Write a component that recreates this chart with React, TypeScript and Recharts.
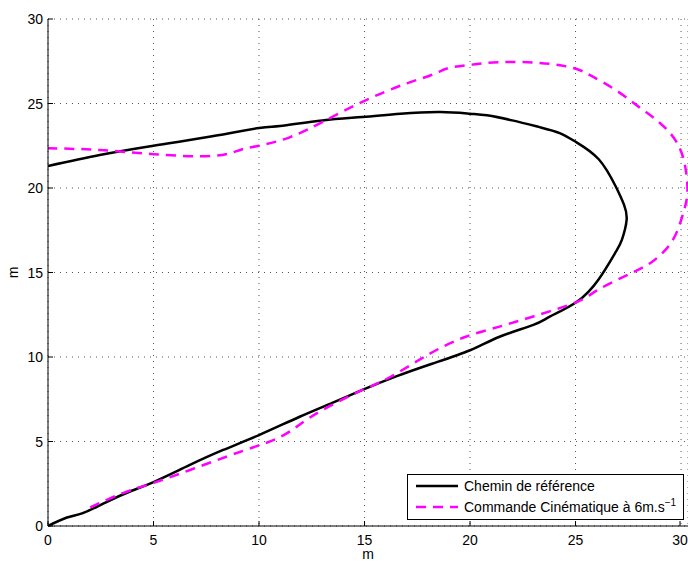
import React from 'react';
import { LineChart, Line, XAxis, YAxis, CartesianGrid, Legend } from 'recharts';

const refX = [0, 0.9, 1.65, 2.77, 4.0, 5.0, 6.7, 8.3, 10.0, 11.9, 13.5, 14.9, 16.5, 18.2, 20.0, 21.4, 23.0, 23.8, 25.05, 26.1, 26.9, 27.2, 27.42, 27.3, 26.9, 26.1, 25.05, 24.25, 23.3, 22.0, 20.8, 20.0, 18.6, 16.7, 14.9, 13.0, 11.0, 10.0, 7.5, 5.0, 2.45, 0];
const refY = [0, 0.5, 0.76, 1.42, 2.1, 2.6, 3.6, 4.5, 5.38, 6.45, 7.3, 8.05, 8.85, 9.6, 10.4, 11.2, 11.9, 12.4, 13.25, 14.6, 16.2, 16.95, 18.1, 19.0, 20.1, 21.7, 22.7, 23.25, 23.6, 24.0, 24.3, 24.4, 24.5, 24.4, 24.2, 24.0, 23.67, 23.55, 23.0, 22.5, 21.95, 21.3];

const cmdX = [2.0, 3.55, 5.0, 6.7, 8.45, 9.9, 11.0, 11.9, 13.0, 14.9, 16.2, 18.1, 19.8, 21.4, 23.0, 25.05, 26.1, 27.7, 28.7, 29.6, 30.1, 30.3, 30.2, 29.8, 29.0, 28.0, 26.9, 25.8, 24.9, 23.3, 21.4, 20.1, 19.0, 18.2, 16.8, 14.9, 13.0, 11.45, 10.0, 9.1, 7.8, 5.0, 2.45, 0];
const cmdY = [1.1, 1.95, 2.55, 3.3, 4.1, 4.73, 5.26, 5.98, 6.86, 8.05, 8.8, 10.2, 11.2, 11.8, 12.4, 13.25, 14.0, 15.0, 15.7, 16.9, 18.5, 19.7, 21.25, 22.7, 23.85, 24.8, 25.8, 26.6, 27.1, 27.4, 27.45, 27.3, 27.1, 26.7, 26.1, 25.1, 23.9, 23.0, 22.5, 22.25, 21.9, 22.0, 22.25, 22.35];

const xTicks = [0, 5, 10, 15, 20, 25, 30];
const yTicks = [0, 5, 10, 15, 20, 25, 30];
const xLabel = 'm';
const yLabel = 'm';
const refName = 'Chemin de référence';
const cmdName = 'Commande Cinématique à 6m.s';
const cmdSup = '−1';

const refData = refX.map((x, i) => ({ x, y: refY[i] }));
const cmdData = cmdX.map((x, i) => ({ x, y: cmdY[i] }));

const FONT = '"Liberation Sans", Arial, Helvetica, sans-serif';
const MAGENTA = '#ff00ff';

const XTick = (props: any) => {
  const { x, y, payload } = props;
  return (
    <g>
      <line x1={x} x2={x} y1={y} y2={y - 5} stroke="#000" strokeWidth={1} />
      <text x={x} y={y + 19} textAnchor="middle" fontSize={14} fontFamily={FONT} fill="#000">
        {payload.value}
      </text>
    </g>
  );
};

const YTick = (props: any) => {
  const { x, y, payload } = props;
  return (
    <g>
      <line x1={x} x2={x + 5} y1={y} y2={y} stroke="#000" strokeWidth={1} />
      <text x={x - 5} y={y + 5} textAnchor="end" fontSize={14} fontFamily={FONT} fill="#000">
        {payload.value}
      </text>
    </g>
  );
};

const XLabel = (props: any) => {
  const vb = props.viewBox || {};
  return (
    <text x={vb.x + vb.width / 2} y={vb.y + 33} textAnchor="middle" fontSize={14} fontFamily={FONT} fill="#000">
      {xLabel}
    </text>
  );
};

const YLabel = (props: any) => {
  const vb = props.viewBox || {};
  const cx = 13;
  const cy = vb.y + vb.height / 2;
  return (
    <text x={cx} y={cy} transform={`rotate(-90 ${cx} ${cy})`} textAnchor="middle" dominantBaseline="central" fontSize={14} fontFamily={FONT} fill="#000">
      {yLabel}
    </text>
  );
};

const LegendBox = () => (
  <div
    style={{
      width: 277,
      height: 46,
      border: '1px solid #000',
      background: '#fff',
      boxSizing: 'border-box',
      position: 'relative',
      fontFamily: FONT,
      fontSize: 14,
      color: '#000',
    }}
  >
    <svg width={50} height={44} style={{ position: 'absolute', left: 7, top: 0 }}>
      <line x1={1} x2={43} y1={11} y2={11} stroke="#000" strokeWidth={2.5} />
      <line x1={1} x2={43} y1={32} y2={32} stroke={MAGENTA} strokeWidth={2.5} strokeDasharray="10 7" />
    </svg>
    <div style={{ position: 'absolute', left: 56, top: 1, lineHeight: '20px', whiteSpace: 'nowrap' }}>{refName}</div>
    <div style={{ position: 'absolute', left: 56, top: 22, lineHeight: '20px', whiteSpace: 'nowrap' }}>
      {cmdName}
      <sup style={{ fontSize: 10, verticalAlign: 'top', position: 'relative', top: -4 }}>{cmdSup}</sup>
    </div>
  </div>
);

export default function App() {
  return (
    <div style={{ position: 'absolute', left: 0, top: 0, width: 688, height: 561, background: '#fff' }}>
      <LineChart width={688} height={561} margin={{ top: 19, right: 0, bottom: 0, left: 0 }}>
        <CartesianGrid stroke="#555" strokeDasharray="1 5" strokeWidth={1} />
        <XAxis
          dataKey="x"
          type="number"
          domain={[0, 30.33]}
          ticks={xTicks}
          height={35}
          tickSize={0}
          tickMargin={0}
          tickLine={false}
          tick={<XTick />}
          axisLine={{ stroke: '#000', strokeWidth: 1 }}
          allowDataOverflow
          label={<XLabel />}
        />
        <YAxis
          dataKey="y"
          type="number"
          domain={[0, 30]}
          ticks={yTicks}
          width={48}
          tickSize={0}
          tickMargin={0}
          tickLine={false}
          tick={<YTick />}
          axisLine={{ stroke: '#000', strokeWidth: 1 }}
          label={<YLabel />}
        />
        <Line
          data={refData}
          dataKey="y"
          name={refName}
          stroke="#000"
          strokeWidth={2.5}
          dot={false}
          activeDot={false}
          type="natural"
          isAnimationActive={false}
        />
        <Line
          data={cmdData}
          dataKey="y"
          name={cmdName}
          stroke={MAGENTA}
          strokeWidth={2.5}
          strokeDasharray="10 7"
          dot={false}
          activeDot={false}
          type="natural"
          isAnimationActive={false}
        />
        <Legend
          layout="horizontal"
          verticalAlign="middle"
          align="center"
          wrapperStyle={{ left: 407, top: 474, width: 277, height: 46 }}
          content={<LegendBox />}
        />
      </LineChart>
    </div>
  );
}
